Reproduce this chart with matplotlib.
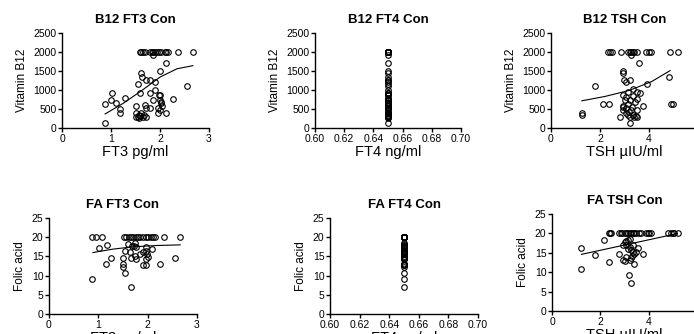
import numpy as np
import matplotlib
matplotlib.use('Agg')
import matplotlib.pyplot as plt

plt.rcParams['font.family'] = ['Liberation Sans', 'DejaVu Sans']

#%% data
# B12 vs FT3
b12_ft3_x = [1.59, 1.62, 1.66, 1.70, 1.79, 1.83, 1.86, 1.90, 1.93, 1.98, 2.03, 2.10,
             2.13, 2.17, 2.37, 2.67,
             1.86, 2.12, 2.00, 1.62, 1.63, 1.71, 1.79, 1.89, 1.55, 2.56, 1.89, 1.03,
             1.59, 1.79, 1.98, 2.00, 1.28, 2.00, 2.27, 1.00, 1.86, 2.02, 0.88, 1.10,
             2.02, 1.52, 1.69, 2.04, 1.19, 1.19, 1.72, 1.79, 1.96, 2.00, 2.12, 1.96,
             1.51, 1.58, 1.62, 1.67, 1.72, 1.52, 1.58, 1.60, 0.88, 1.55, 1.65]
b12_ft3_y = [2000, 2000, 2000, 2000, 2000, 2000, 2000, 2000, 2000, 2000, 2000, 2000,
             2000, 2000, 2000, 2000,
             1910, 1698, 1509, 1440, 1353, 1267, 1267, 1207, 1164, 1095, 1009, 922,
             922, 922, 862, 880, 802, 750, 759, 733, 733, 690, 629, 647,
             647, 578, 603, 578, 491, 405, 517, 517, 517, 474, 388, 405,
             388, 345, 388, 345, 302, 302, 259, 319, 129, 280, 300]
b12_ft3_fit_x = [0.88, 1.25, 1.6, 2.0, 2.35, 2.67]
b12_ft3_fit_y = [370, 650, 960, 1340, 1560, 1640]

# FT4 is a single value for every subject
ft4_value = 0.65

# B12 vs TSH
b12_tsh_x = [2.34, 2.41, 2.47, 2.84, 3.15, 3.28, 3.35, 3.49, 3.89, 4.00, 4.09, 4.86,
             5.18, 3.40, 3.22,
             3.28, 3.59, 2.95, 2.95, 2.99, 3.08, 3.24, 1.80, 3.92, 4.81, 3.35, 3.15,
             3.49, 3.62, 2.95, 3.08, 3.35, 3.49, 3.01, 3.22, 3.42, 3.76, 3.15, 2.92,
             3.08, 3.28, 3.49, 3.08, 3.35, 3.22, 3.49, 2.81, 3.24, 3.46, 3.16, 2.95,
             2.95, 2.14, 2.38, 4.90, 4.97, 1.26, 1.26, 3.30, 3.40, 3.20]
b12_tsh_y = [2000, 2000, 2000, 2000, 2000, 2000, 2000, 2000, 2000, 2000, 2000, 2000,
             2000, 2000, 2000,
             1910, 1698, 1509, 1440, 1267, 1207, 1267, 1095, 1164, 1353, 1034, 948,
             948, 922, 862, 819, 836, 776, 750, 733, 690, 578, 629, 578,
             517, 474, 474, 388, 345, 302, 285, 285, 129, 319, 345, 474,
             543, 629, 629, 629, 640, 388, 345, 560, 300, 410]
b12_tsh_fit_x = [1.26, 2.2, 3.2, 4.1, 4.86]
b12_tsh_fit_y = [716, 830, 990, 1220, 1509]

# FA vs FT3
fa_ft3_x = [0.87, 0.96, 1.08, 1.52, 1.57, 1.62, 1.67, 1.70, 1.77, 1.80, 1.84, 1.91,
            1.97, 2.00, 2.07, 2.11, 2.14, 2.34, 2.65,
            1.01, 1.18, 1.26, 1.16, 0.88, 1.49, 1.50, 1.51, 1.55, 1.66, 1.55, 1.61,
            1.64, 1.72, 1.74, 1.69, 1.77, 1.75, 1.77, 1.67, 1.84, 1.91, 1.97, 1.96,
            1.99, 2.01, 1.97, 2.08, 1.91, 1.97, 2.26, 2.55]
fa_ft3_y = [20, 20, 20, 20, 20, 20, 20, 20, 20, 20, 20, 20,
            20, 20, 20, 20, 20, 20, 20,
            17.2, 18.0, 14.7, 13.0, 9.1, 13.1, 14.6, 12.2, 10.8, 7.0, 16.4, 18.3,
            16.1, 17.8, 18.4, 17.6, 17.4, 15.1, 14.2, 14.7, 15.7, 16.1, 16.5, 17.5,
            15.5, 14.8, 14.2, 16.9, 12.7, 12.7, 12.9, 14.6]
fa_ft3_fit_x = [0.89, 1.3, 1.71, 2.2, 2.66]
fa_ft3_fit_y = [16.0, 16.9, 17.5, 17.85, 18.0]

# FA vs TSH
fa_tsh_x = [2.36, 2.41, 2.45, 2.77, 2.84, 2.90, 3.00, 3.07, 3.14, 3.21, 3.27, 3.34,
            3.41, 3.48, 3.62, 3.68, 3.89, 3.96, 4.03, 4.10, 4.82, 4.92, 4.99, 5.05,
            5.23,
            1.22, 1.22, 2.14, 1.77, 2.36, 2.79, 2.93, 3.00, 2.93, 3.00, 3.07, 3.14,
            3.21, 3.07, 3.21, 3.34, 3.27, 3.14, 3.34, 3.41, 3.55, 3.48, 3.75, 3.27,
            3.21, 3.41, 3.07, 3.18, 3.25, 3.32]
fa_tsh_y = [20, 20, 20, 20, 20, 20, 20, 20, 20, 20, 20, 20,
            20, 20, 20, 20, 20, 20, 20, 20, 20, 20, 20, 20,
            20,
            16.2, 10.8, 18.3, 14.5, 12.7, 14.7, 13.2, 12.8, 16.9, 17.7, 18.0, 18.3,
            18.6, 17.1, 16.4, 17.1, 15.6, 16.0, 15.2, 14.6, 16.2, 15.2, 14.6, 13.7,
            13.2, 12.2, 14.0, 9.2, 7.1, 14.2]
fa_tsh_fit_x = [1.22, 5.19]
fa_tsh_fit_y = [14.6, 19.95]

#%% figure
fig = plt.figure(figsize=(6.94, 3.34), dpi=100)

def pix_axes(x0, x1, y_top, y_bot):
    # axes from pixel coordinates of the 694x334 canvas
    W, H = 694., 334.
    return fig.add_axes([x0 / W, 1 - y_bot / H, (x1 - x0) / W, (y_bot - y_top) / H])

def style(ax, title, xlabel, ylabel):
    for s in ['top', 'right']:
        ax.spines[s].set_visible(False)
    for s in ['left', 'bottom']:
        ax.spines[s].set_linewidth(1.0)
    ax.tick_params(direction='out', length=3, width=1, labelsize=7.5, pad=1)
    ax.set_title(title, fontsize=9.5, fontweight='bold', pad=7)
    ax.set_xlabel(xlabel, fontsize=10.5, labelpad=1)
    ax.set_ylabel(ylabel, fontsize=8.5, labelpad=4)

mk = dict(marker='o', linestyle='none', markersize=4, markerfacecolor='none',
          markeredgecolor='black', markeredgewidth=0.8)

# top row
ax1 = pix_axes(62, 209, 33, 128)
ax1.plot(b12_ft3_x, b12_ft3_y, **mk)
ax1.plot(b12_ft3_fit_x, b12_ft3_fit_y, color='black', lw=0.8)
ax1.set_xlim(0, 3); ax1.set_ylim(0, 2500)
ax1.set_xticks([0, 1, 2, 3]); ax1.set_yticks(np.arange(0, 2501, 500))
style(ax1, 'B12 FT3 Con', 'FT3 pg/ml', 'Vitamin B12')

ax2 = pix_axes(315, 461, 33, 128)
ax2.plot([ft4_value] * len(b12_ft3_y), b12_ft3_y, **mk)
ax2.set_xlim(0.60, 0.70); ax2.set_ylim(0, 2500)
ax2.set_xticks([0.60, 0.62, 0.64, 0.66, 0.68, 0.70]); ax2.set_yticks(np.arange(0, 2501, 500))
ax2.set_xticklabels(['0.60', '0.62', '0.64', '0.66', '0.68', '0.70'])
style(ax2, 'B12 FT4 Con', 'FT4 ng/ml', 'Vitamin B12')

ax3 = pix_axes(551, 698, 33, 128)
ax3.plot(b12_tsh_x, b12_tsh_y, **mk)
ax3.plot(b12_tsh_fit_x, b12_tsh_fit_y, color='black', lw=0.8)
ax3.set_xlim(0, 6); ax3.set_ylim(0, 2500)
ax3.set_xticks([0, 2, 4]); ax3.set_yticks(np.arange(0, 2501, 500))
style(ax3, 'B12 TSH Con', 'TSH \u00b5IU/ml', 'Vitamin B12')

# bottom row
ax4 = pix_axes(49, 197, 218, 314)
ax4.plot(fa_ft3_x, fa_ft3_y, **mk)
ax4.plot(fa_ft3_fit_x, fa_ft3_fit_y, color='black', lw=0.8)
ax4.set_xlim(0, 3); ax4.set_ylim(0, 25)
ax4.set_xticks([0, 1, 2, 3]); ax4.set_yticks(np.arange(0, 26, 5))
style(ax4, 'FA FT3 Con', 'FT3 pg/ml', 'Folic acid')

ax5 = pix_axes(330, 478, 218, 314)
ax5.plot([ft4_value] * len(fa_ft3_y), fa_ft3_y, **mk)
ax5.set_xlim(0.60, 0.70); ax5.set_ylim(0, 25)
ax5.set_xticks([0.60, 0.62, 0.64, 0.66, 0.68, 0.70]); ax5.set_yticks(np.arange(0, 26, 5))
ax5.set_xticklabels(['0.60', '0.62', '0.64', '0.66', '0.68', '0.70'])
style(ax5, 'FA FT4 Con', 'FT4 ng/ml', 'Folic acid')

ax6 = pix_axes(552, 697, 214, 311)
ax6.plot(fa_tsh_x, fa_tsh_y, **mk)
ax6.plot(fa_tsh_fit_x, fa_tsh_fit_y, color='black', lw=0.8)
ax6.set_xlim(0, 6); ax6.set_ylim(0, 25)
ax6.set_xticks([0, 2, 4]); ax6.set_yticks(np.arange(0, 26, 5))
style(ax6, 'FA TSH Con', 'TSH \u00b5IU/ml', 'Folic acid')

for ax in [ax1, ax2, ax3, ax4, ax5, ax6]:
    for t in ax.get_xticklabels() + ax.get_yticklabels():
        t.set_clip_on(False)

fig.savefig('out.png', dpi=100)
